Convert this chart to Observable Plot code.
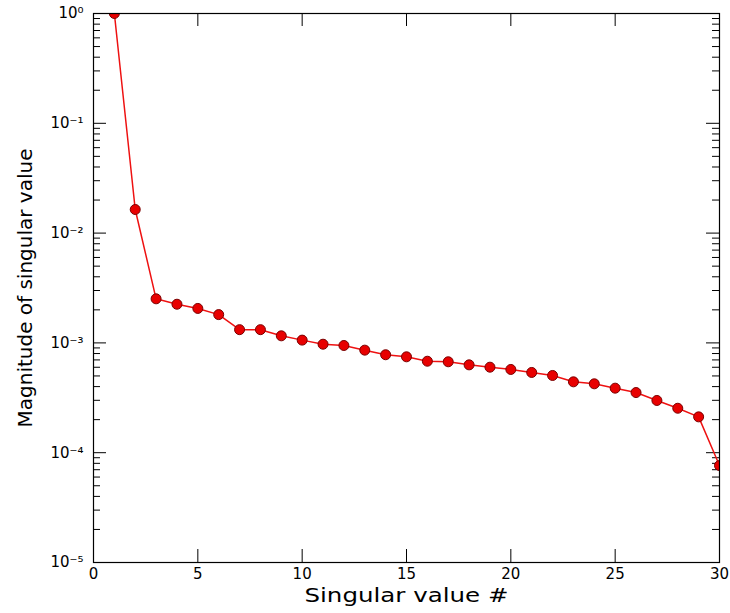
<!DOCTYPE html>
<html>
<head>
<meta charset="utf-8">
<script src="https://cdn.jsdelivr.net/npm/d3@7"></script>
<script src="https://cdn.jsdelivr.net/npm/@observablehq/plot@0.6"></script>
<style>
  html, body { margin: 0; padding: 0; background: #fff; }
  #chart svg { font-family: "DejaVu Sans", sans-serif; display: block; }
</style>
</head>
<body>
<div id="chart"></div>
<script>
// ---- data ----
const singularIndex = [1, 2, 3, 4, 5, 6, 7, 8, 9, 10, 11, 12, 13, 14, 15, 16, 17, 18, 19, 20, 21, 22, 23, 24, 25, 26, 27, 28, 29, 30];
const singularValues = [1.0, 0.0164, 0.00252, 0.00225, 0.00206, 0.00181, 0.00132, 0.00132, 0.00116, 0.00106,
  0.000973, 0.000947, 0.000859, 0.000780, 0.000747, 0.000681, 0.000673, 0.000631, 0.000601, 0.000573,
  0.000538, 0.000505, 0.000442, 0.000424, 0.000387, 0.000353, 0.000299, 0.000254, 0.000212, 0.0000764];
const xTicks = [0, 5, 10, 15, 20, 25, 30];
const yTicks = [1e-5, 1e-4, 1e-3, 1e-2, 1e-1, 1];
const yTickLabels = ["10\u207B\u2075", "10\u207B\u2074", "10\u207B\u00B3", "10\u207B\u00B2", "10\u207B\u00B9", "10\u2070"];
const minorFactors = [2, 3, 4, 5, 6, 7, 8, 9];
const xLabel = "Singular value #";
const yLabel = "Magnitude of singular value";

// ---- derived ----
const data = singularIndex.map((i, k) => ({i, v: singularValues[k]}));
const yMinor = yTicks.slice(0, -1).flatMap(d => minorFactors.map(f => d * f));

const W = 730, H = 613, mL = 93, mR = 11, mT = 13, mB = 51;
const pw = W - mL - mR, ph = H - mT - mB;
const MAJ = 13, MIN = 7;
const lineRed = "#ee1111";

const chart = Plot.plot({
  width: W, height: H,
  marginLeft: mL, marginRight: mR, marginTop: mT, marginBottom: mB,
  x: {domain: [0, 30]},
  y: {type: "log", domain: [1e-5, 1]},
  style: {fontFamily: "DejaVu Sans, sans-serif", fontSize: "15px", color: "black", background: "white"},
  marks: [
    Plot.axisX({ticks: xTicks, tickSize: 0, tickPadding: 6, label: null, fontSize: 15}),
    Plot.axisY({ticks: yTicks, tickSize: 0, tickPadding: 10, label: null, fontSize: 15,
      tickFormat: d => yTickLabels[Math.round(Math.log10(d)) + 5]}),
    // inward ticks on all four sides
    Plot.tickY(yTicks, {y: d => d, insetRight: pw - MAJ, stroke: "black"}),
    Plot.tickY(yTicks, {y: d => d, insetLeft: pw - MAJ, stroke: "black"}),
    Plot.tickY(yMinor, {y: d => d, insetRight: pw - MIN, stroke: "black"}),
    Plot.tickY(yMinor, {y: d => d, insetLeft: pw - MIN, stroke: "black"}),
    Plot.tickX(xTicks, {x: d => d, insetTop: ph - MAJ, stroke: "black"}),
    Plot.tickX(xTicks, {x: d => d, insetBottom: ph - MAJ, stroke: "black"}),
    Plot.line(data, {x: "i", y: "v", stroke: lineRed, strokeWidth: 1.5, clip: true}),
    Plot.dot(data, {x: "i", y: "v", r: 5, fill: "#e80000", stroke: "#7a0000", strokeWidth: 1, clip: true}),
    Plot.frame({stroke: "black", strokeWidth: 1.2}),
    Plot.text([xLabel], {text: d => d, frameAnchor: "bottom", lineAnchor: "middle", textAnchor: "middle", dy: 33, fontSize: 20, fill: "black"}),
    Plot.text([yLabel], {text: d => d, frameAnchor: "left", lineAnchor: "middle", textAnchor: "middle", rotate: -90, dx: -68, fontSize: 20, fill: "black"})
  ]
});
document.getElementById("chart").appendChild(chart);
d3.select(chart).selectAll("text")
  .filter(function() { return this.textContent === xLabel; })
  .attr("textLength", 204).attr("lengthAdjust", "spacingAndGlyphs");
</script>
</body>
</html>
